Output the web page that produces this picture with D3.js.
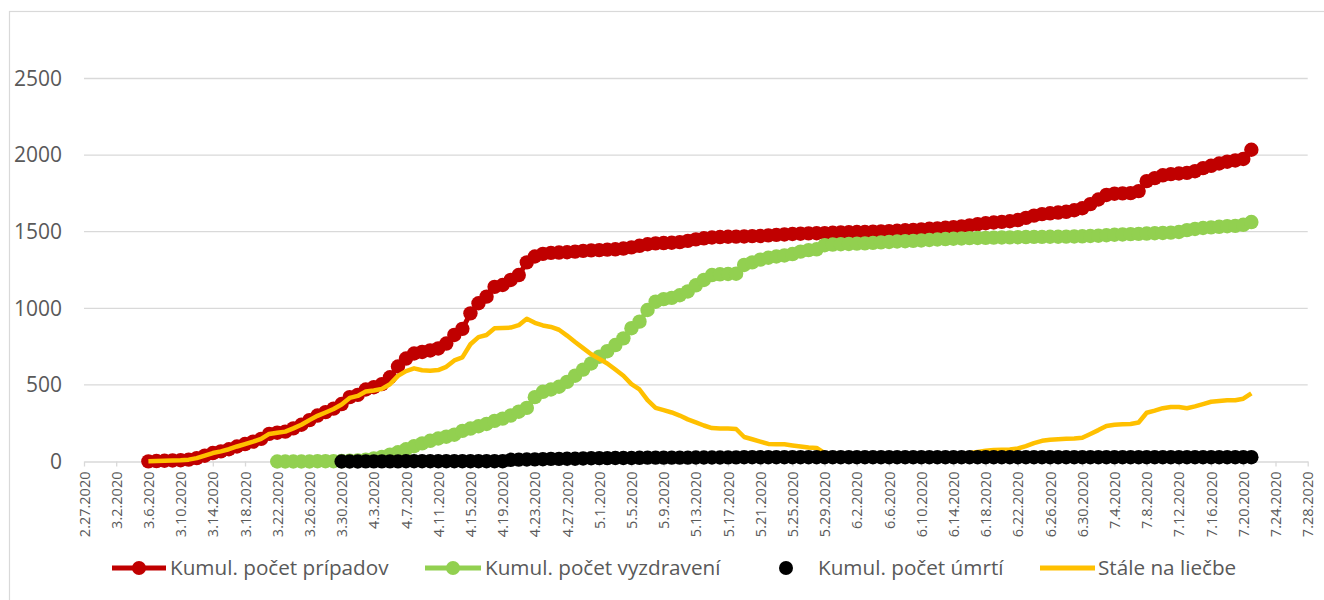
<!DOCTYPE html>
<html>
<head>
<meta charset="utf-8">
<script src="https://cdn.jsdelivr.net/npm/d3@7"></script>
<style>
  body { margin: 0; background: #fff; }
  text { font-family: "Open Sans", sans-serif; fill: #595959; }
</style>
</head>
<body>
<div id="chart"></div>
<script>
// cumulative cases, from 3.6.2020
const casesStart = '2020-03-06';
const cases = [
    1, 3, 5, 7, 8, 12, 22, 38, 55, 66, 80, 98, 114, 130, 148, 180, 188, 195, 216, 240, 270, 300, 322, 345, 375, 420,
    435, 470, 485, 505, 550, 620, 672, 705, 715, 725, 738, 770, 826, 866, 967, 1033, 1076, 1140, 1152, 1185, 1217, 1300, 1338, 1355, 1362, 1364, 1366, 1370, 1375, 1378,
    1380, 1383, 1385, 1390, 1398, 1408, 1418, 1424, 1426, 1428, 1432, 1440, 1450, 1457, 1462, 1465, 1467, 1468, 1469, 1471, 1472, 1476, 1479, 1482, 1485, 1487, 1489, 1490, 1491, 1493, 1495,
    1496, 1498, 1499, 1500, 1502, 1504, 1506, 1509, 1512, 1515, 1519, 1522, 1526, 1530, 1535, 1541, 1549, 1555, 1560, 1564, 1568, 1576, 1590, 1605, 1615, 1620, 1625, 1630, 1640, 1653,
    1680, 1710, 1740, 1748, 1750, 1752, 1765, 1830, 1850, 1868, 1876, 1880, 1884, 1895, 1915, 1930, 1945, 1957, 1965, 1975, 2035
];

// cumulative recovered, from 3.22.2020
const recoveredStart = '2020-03-22';
const recovered = [
    0, 0, 0, 0, 0, 2, 2, 2, 3, 5,
    7, 12, 20, 30, 45, 60, 80, 100, 118, 135, 150, 162, 175, 200, 215, 230, 245, 265, 280, 300, 325, 350, 420, 455, 470, 488, 520, 560, 600, 640,
    684, 720, 760, 804, 870, 913, 989, 1043, 1060, 1068, 1085, 1110, 1150, 1185, 1217, 1222, 1224, 1226, 1283, 1300, 1318, 1330, 1338, 1345, 1354, 1370, 1380, 1385, 1412, 1416, 1418,
    1420, 1422, 1424, 1427, 1430, 1433, 1436, 1438, 1440, 1443, 1446, 1449, 1452, 1454, 1456, 1458, 1459, 1460, 1461, 1462, 1463, 1464, 1465, 1466, 1466, 1467, 1467, 1468, 1469, 1470,
    1472, 1474, 1477, 1480, 1482, 1484, 1486, 1488, 1490, 1492, 1494, 1498, 1510, 1518, 1524, 1528, 1532, 1536, 1538, 1545, 1563
];

// cumulative deaths, from 3.30.2020
const deathsStart = '2020-03-30';
const deaths = [
    0, 0,
    0, 1, 1, 1, 1, 1, 2, 2, 2, 2, 2, 2, 2, 2, 2, 2, 2, 2, 2, 11, 12, 13, 14, 15, 17, 17, 18, 18, 20, 21,
    22, 22, 23, 23, 23, 24, 25, 25, 25, 25, 25, 25, 26, 26, 26, 26, 27, 27, 28, 28, 28, 28, 28, 28, 28, 28, 28, 28, 28, 28, 28,
    28, 28, 28, 28, 28, 28, 28, 28, 28, 28, 28, 28, 28, 28, 28, 28, 28, 28, 28, 28, 28, 28, 28, 28, 28, 28, 28, 28, 28, 28,
    28, 28, 28, 28, 28, 28, 28, 28, 28, 28, 28, 28, 28, 28, 28, 28, 28, 28, 28, 28, 28
];

// still in treatment, from 3.6.2020
const activeStart = '2020-03-06';
const active = [
    1, 3, 5, 7, 8, 12, 22, 38, 55, 66, 80, 98, 114, 130, 148, 180, 188, 195, 216, 240, 270, 298, 320, 343, 372, 415,
    428, 457, 464, 474, 504, 559, 590, 608, 596, 592, 597, 618, 660, 680, 765, 812, 826, 870, 872, 874, 890, 932, 905, 888, 878, 860, 822, 780, 740, 700,
    670, 640, 600, 560, 505, 470, 400, 350, 335, 320, 300, 275, 255, 235, 218, 215, 215, 212, 160, 145, 130, 115, 112, 112, 105, 98, 92, 88, 55, 52, 50,
    48, 46, 45, 44, 43, 42, 41, 42, 43, 43, 44, 44, 45, 46, 48, 55, 62, 70, 75, 77, 78, 85, 100, 120, 135, 142, 146, 148, 150, 155,
    180, 205, 232, 240, 243, 245, 255, 318, 332, 348, 356, 356, 348, 360, 375, 390, 395, 400, 400, 410, 445
];

const xTicks = ['2020-02-27', '2020-03-02', '2020-03-06', '2020-03-10', '2020-03-14', '2020-03-18', '2020-03-22',
    '2020-03-26', '2020-03-30', '2020-04-03', '2020-04-07', '2020-04-11', '2020-04-15', '2020-04-19', '2020-04-23',
    '2020-04-27', '2020-05-01', '2020-05-05', '2020-05-09', '2020-05-13', '2020-05-17', '2020-05-21', '2020-05-25',
    '2020-05-29', '2020-06-02', '2020-06-06', '2020-06-10', '2020-06-14', '2020-06-18', '2020-06-22', '2020-06-26',
    '2020-06-30', '2020-07-04', '2020-07-08', '2020-07-12', '2020-07-16', '2020-07-20', '2020-07-24', '2020-07-28'];
const yTicks = [0, 500, 1000, 1500, 2000, 2500];

const seriesNames = ['Kumul. počet prípadov', 'Kumul. počet vyzdravení', 'Kumul. počet úmrtí', 'Stále na liečbe'];

const parse = d3.utcParse('%Y-%m-%d');
const fmt = d => `${d.getUTCMonth() + 1}.${d.getUTCDate()}.${d.getUTCFullYear()}`;

function toPoints(start, values) {
    const s = parse(start);
    return values.map((v, i) => ({date: d3.utcDay.offset(s, i), value: v}));
}

const width = 1324, height = 600;
const svg = d3.select('#chart').append('svg').attr('width', width).attr('height', height);

// chart border
svg.append('rect')
    .attr('x', 9.5).attr('y', 11.5)
    .attr('width', 1330).attr('height', 600)
    .attr('fill', 'none').attr('stroke', '#d9d9d9').attr('stroke-width', 1.2);

const x = d3.scaleUtc()
    .domain([parse(xTicks[0]), parse(xTicks[xTicks.length - 1])])
    .range([84, 1307.7]);
const y = d3.scaleLinear().domain([0, 2500]).range([461.5, 78.5]);

// gridlines
svg.append('g')
    .selectAll('line')
    .data(yTicks.filter(t => t > 0))
    .join('line')
    .attr('x1', 84).attr('x2', 1307.7)
    .attr('y1', d => y(d)).attr('y2', d => y(d))
    .attr('stroke', '#d9d9d9').attr('stroke-width', 1.3);

// y labels
svg.append('g')
    .selectAll('text')
    .data(yTicks)
    .join('text')
    .attr('x', 62)
    .attr('y', d => y(d))
    .attr('dy', '0.35em')
    .attr('text-anchor', 'end')
    .style('font-size', '21px')
    .text(d => d);

// x axis
const xAxis = svg.append('g')
    .attr('transform', `translate(0,${y(0)})`)
    .call(d3.axisBottom(x).tickValues(xTicks.map(parse)).tickFormat(fmt).tickSize(5).tickSizeOuter(0));
xAxis.select('.domain').attr('stroke', '#d9d9d9').attr('stroke-width', 1.3);
xAxis.selectAll('.tick line').attr('stroke', '#d9d9d9').attr('stroke-width', 1.3);
xAxis.selectAll('.tick text')
    .attr('transform', 'rotate(-90)')
    .attr('x', -10).attr('y', 0).attr('dy', '0.35em')
    .attr('text-anchor', 'end')
    .attr('fill', '#595959')
    .style('font-family', '"Open Sans", sans-serif')
    .style('font-size', '14.5px');

const line = d3.line()
    .x(d => x(d.date))
    .y(d => y(d.value));

const casesPts = toPoints(casesStart, cases);
const recoveredPts = toPoints(recoveredStart, recovered);
const deathsPts = toPoints(deathsStart, deaths);
const activePts = toPoints(activeStart, active);

function lineWithMarkers(pts, color) {
    svg.append('path')
        .datum(pts)
        .attr('fill', 'none')
        .attr('stroke', color)
        .attr('stroke-width', 5)
        .attr('stroke-linejoin', 'round')
        .attr('d', line);
    svg.append('g')
        .selectAll('circle')
        .data(pts)
        .join('circle')
        .attr('cx', d => x(d.date))
        .attr('cy', d => y(d.value))
        .attr('r', 7.2)
        .attr('fill', color);
}

lineWithMarkers(casesPts, '#c00000');
lineWithMarkers(recoveredPts, '#92d050');

svg.append('path')
    .datum(activePts)
    .attr('fill', 'none')
    .attr('stroke', '#ffc000')
    .attr('stroke-width', 4.5)
    .attr('stroke-linejoin', 'round')
    .attr('d', line);

// deaths: markers only, drawn on top
svg.append('g')
    .selectAll('circle')
    .data(deathsPts)
    .join('circle')
    .attr('cx', d => x(d.date))
    .attr('cy', d => y(d.value))
    .attr('r', 7.2)
    .attr('fill', '#000');

// legend
const legendY = 568;
const legend = svg.append('g');

function legendItem(x0, x1, textX, color, hasLine, hasMarker, label) {
    if (hasLine) {
        legend.append('line')
            .attr('x1', x0).attr('x2', x1)
            .attr('y1', legendY).attr('y2', legendY)
            .attr('stroke', color).attr('stroke-width', 5);
    }
    if (hasMarker) {
        legend.append('circle')
            .attr('cx', (x0 + x1) / 2).attr('cy', legendY)
            .attr('r', 7).attr('fill', color);
    }
    legend.append('text')
        .attr('x', textX).attr('y', legendY)
        .attr('dy', '0.35em')
        .style('font-size', '20.7px')
        .text(label);
}

legendItem(112, 166, 170, '#c00000', true, true, seriesNames[0]);
legendItem(425, 481, 485, '#92d050', true, true, seriesNames[1]);
legendItem(786, 786, 818, '#000', false, true, seriesNames[2]);
legendItem(1040, 1095, 1098, '#ffc000', true, false, seriesNames[3]);
</script>
</body>
</html>
